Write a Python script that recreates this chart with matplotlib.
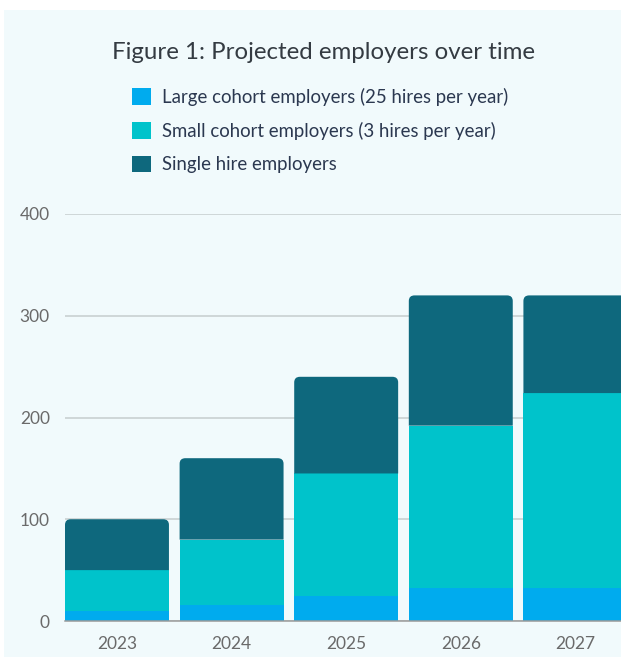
import numpy as np
import matplotlib
matplotlib.use("Agg")
import matplotlib.pyplot as plt
from matplotlib.patches import Rectangle, PathPatch
from matplotlib.path import Path

# data
years = ["2023", "2024", "2025", "2026", "2027"]
large_cohort = [10, 16, 25, 32, 32]
small_cohort = [40, 64, 120, 160, 192]
single_hire = [50, 80, 95, 128, 96]
labels = ["Large cohort employers (25 hires per year)",
          "Small cohort employers (3 hires per year)",
          "Single hire employers"]
colors = ["#00abee", "#00c3cb", "#0e687d"]

plt.rcParams['font.family'] = ['Lato', 'DejaVu Sans']

W, H = 621, 657
fig = plt.figure(figsize=(W / 100, H / 100), dpi=100, facecolor="white")

# light panel behind everything
fig.patches.append(Rectangle((4 / W, 0), 1, (H - 10) / H, transform=fig.transFigure,
                             facecolor="#f1fafc", edgecolor="none", zorder=-5))

ax = fig.add_axes([65 / W, (H - 621) / H, (W - 65) / W, (621 - 214) / H])
ax.set_facecolor("none")

x = np.arange(len(years))
width = 0.907
bottom1 = np.array(large_cohort)
bottom2 = bottom1 + np.array(small_cohort)

b1 = ax.bar(x, large_cohort, width, color=colors[0], label=labels[0], zorder=3)
b2 = ax.bar(x, small_cohort, width, bottom=bottom1, color=colors[1], label=labels[1], zorder=3)
b3 = ax.bar(x, single_hire, width, bottom=bottom2, color=colors[2], label=labels[2], zorder=3)

ax.set_xlim(-0.4535, 4.398)
ax.set_ylim(0, 400)

leg = fig.legend(handles=[b1, b2, b3], loc="upper left",
                 bbox_to_anchor=(132 / W, 1 - 88 / H), frameon=False, fontsize=13.4,
                 handlelength=1.0, handleheight=1.0, handletextpad=0.62,
                 labelspacing=0.85, borderpad=0, borderaxespad=0,
                 labelcolor="#2b3850")


# rounded top corners on the top segment
def rounded_top(rect, rx, ry):
    x0, y0 = rect.get_x(), rect.get_y()
    x1, y1 = x0 + rect.get_width(), y0 + rect.get_height()
    verts = [(x0, y0), (x0, y1 - ry), (x0, y1), (x0 + rx, y1),
             (x1 - rx, y1), (x1, y1), (x1, y1 - ry), (x1, y0), (x0, y0)]
    codes = [Path.MOVETO, Path.LINETO, Path.CURVE3, Path.CURVE3,
             Path.LINETO, Path.CURVE3, Path.CURVE3, Path.LINETO, Path.CLOSEPOLY]
    return Path(verts, codes)


for rect in b3.patches:
    rect.set_visible(False)
    ax.add_patch(PathPatch(rounded_top(rect, 0.05, 5.5), facecolor=rect.get_facecolor(),
                           edgecolor="none", zorder=3))

ax.set_yticks([0, 100, 200, 300, 400])
ax.set_xticks(x)
ax.set_xticklabels(years)
ax.grid(axis="y", color="#c9d0d1", linewidth=1.2, zorder=0)
for s in ["top", "right", "left"]:
    ax.spines[s].set_visible(False)
ax.spines["bottom"].set_color("#9a9a9a")
ax.spines["bottom"].set_linewidth(1.1)
ax.spines["bottom"].set_zorder(4)
ax.tick_params(axis="both", length=0, labelsize=12.5, labelcolor="#6a6a6a")
ax.tick_params(axis="x", pad=11)
ax.tick_params(axis="y", pad=11)

fig.text(323 / W, 1 - 59 / H, "Figure 1: Projected employers over time", ha="center",
         va="baseline", fontsize=17.3, color="#343b42")

fig.savefig("out.png", dpi=100, facecolor="white")
